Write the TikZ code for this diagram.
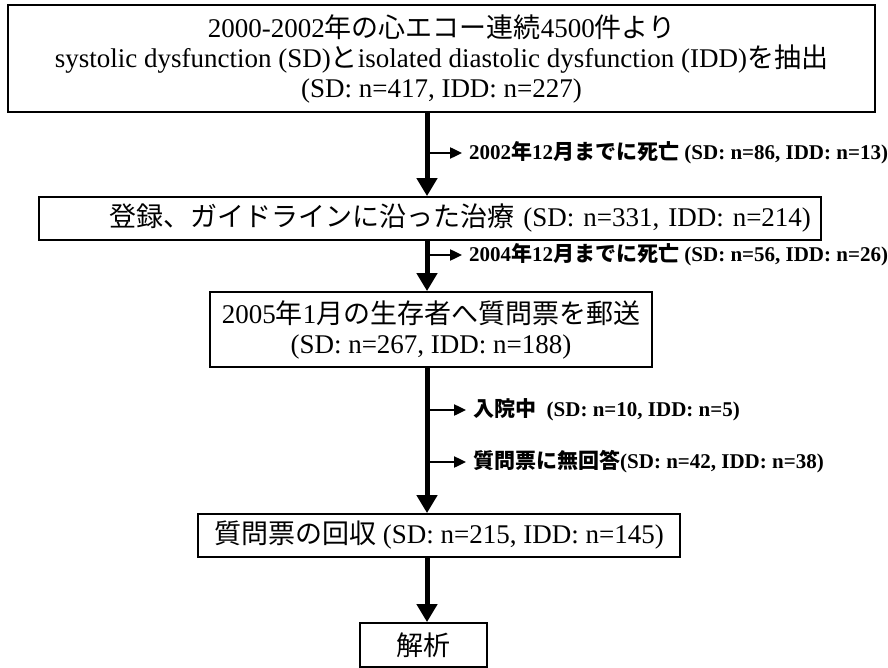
\documentclass[tikz,border=0pt]{standalone}
\usepackage{fontspec}
\setmainfont{Liberation Serif}
\newfontfamily\jp{Noto Sans CJK JP}
\newcommand{\J}[1]{{\jp #1}}
\usetikzlibrary{arrows.meta}
\begin{document}
\begin{tikzpicture}[x=1pt,y=-1pt,
  box/.style={draw=black,line width=1.8pt,inner sep=0pt,align=center,
    font=\fontsize{27}{30}\selectfont},
  sidelabel/.style={anchor=west,inner sep=0pt,font=\fontsize{21}{24}\selectfont\bfseries},
  mainarrow/.style={line width=5pt,-{Triangle[length=18pt,width=20pt]}},
  sidearrow/.style={line width=2.4pt,-{Triangle[length=12pt,width=11pt]},shorten >=7pt}]
\useasboundingbox[fill=white] (0,0) rectangle (888,668);
\coordinate (sx) at (427,0);
% boxes
\node[box,minimum width=867pt,minimum height=107pt] (b1) at (441.5,58.5)
  {2000-2002\J{年の心エコー連続}4500\J{件より}\\
   systolic dysfunction (SD)\J{と}isolated diastolic dysfunction (IDD)\J{を抽出}\\
   (SD: n=417, IDD: n=227)};
\node[box,minimum height=43pt,text width=762pt,inner xsep=10pt,align=right] (b2) at (430,218.5)
  {\J{登録、ガイドラインに沿った治療} (SD: n=331, IDD: n=214)};
\node[box,minimum width=442pt,minimum height=75pt] (b3) at (431,329.5)
  {2005\J{年}1\J{月の生存者へ質問票を郵送}\\(SD: n=267, IDD: n=188)};
\node[box,minimum width=482pt,minimum height=43pt] (b4) at (439,535.5)
  {\J{質問票の回収} (SD: n=215, IDD: n=145)};
\node[box,minimum width=127pt,minimum height=44pt] (b5) at (423.5,645)
  {\J{解析}};
% side labels
\node[sidelabel] (l1) at (469,153) {2002\J{年}12\J{月までに死亡} (SD: n=86, IDD: n=13)};
\node[sidelabel] (l2) at (469,255) {2004\J{年}12\J{月までに死亡} (SD: n=56, IDD: n=26)};
\node[sidelabel] (l3) at (473,410) {\J{入院中}\ \ (SD: n=10, IDD: n=5)};
\node[sidelabel] (l4) at (473,462) {\J{質問票に無回答}(SD: n=42, IDD: n=38)};
% main arrows
\draw[mainarrow] (b1.south -| sx) -- (b2.north -| sx);
\draw[mainarrow] (b2.south -| sx) -- (b3.north -| sx);
\draw[mainarrow] (b3.south -| sx) -- (b4.north -| sx);
\draw[mainarrow] (b4.south -| sx) -- (b5.north -| sx);
% side arrows
\draw[sidearrow] (sx |- l1.west) -- (l1.west);
\draw[sidearrow] (sx |- l2.west) -- (l2.west);
\draw[sidearrow] (sx |- l3.west) -- (l3.west);
\draw[sidearrow] (sx |- l4.west) -- (l4.west);
\end{tikzpicture}
\end{document}
